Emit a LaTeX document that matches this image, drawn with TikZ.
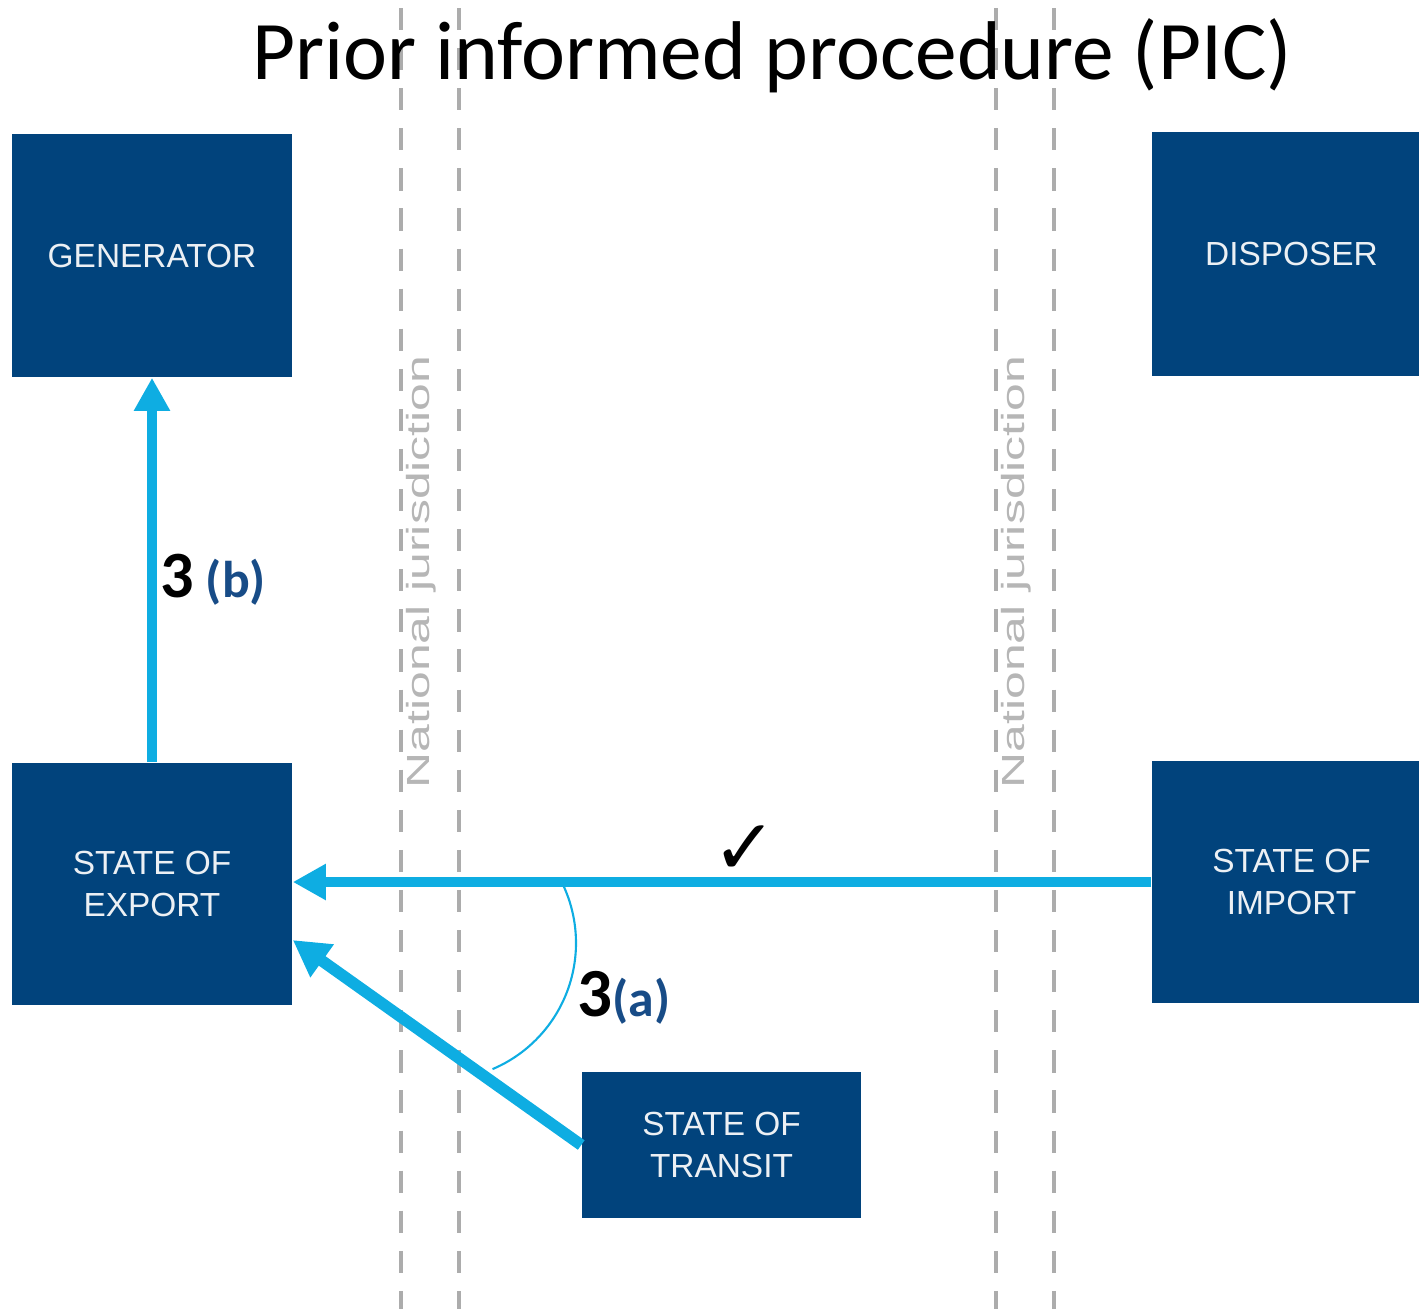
\documentclass[tikz,border=0pt]{standalone}
\usepackage{fontspec}
\usepackage{graphicx}
\setmainfont{Liberation Sans}
\newfontfamily\titlefont{Carlito}
\newfontfamily\tickfont{DejaVu Sans}
\usetikzlibrary{arrows.meta}
\definecolor{boxblue}{RGB}{1,67,124}
\definecolor{boxtext}{RGB}{236,240,244}
\definecolor{arrowblue}{RGB}{14,173,226}
\definecolor{stepblue}{RGB}{24,76,135}
\definecolor{jurgray}{RGB}{172,172,172}
\definecolor{jurtext}{RGB}{182,182,182}
\begin{document}
\begin{tikzpicture}[x=0.01cm,y=-0.01cm,line join=round,>={Triangle[length=0.33cm,width=0.34cm]},
	actor/.style={fill=boxblue,text=boxtext,inner sep=0pt,align=center,font=\fontsize{9.5}{11.7}\selectfont},
	flow/.style={->,draw=arrowblue,line width=2.6pt},
	jurline/.style={draw=jurgray,line width=1.4pt,dash pattern=on 6.3pt off 5.1pt},
	jurlabel/.style={text=jurtext,rotate=90,anchor=base,inner sep=0pt,font=\fontsize{9.1}{10}\selectfont},
	stepno/.style={inner sep=0pt,anchor=base west,font=\titlefont\bfseries}]
		\useasboundingbox (0,0) rectangle (1419,1309);
		% borders of national jurisdiction
		\foreach \x in {401,459,996,1054}
			\draw[jurline] (\x,8) -- (\x,1309);
		\node[jurlabel] (jurleft) at (429,572) {\scalebox{1.56}[1]{National jurisdiction}};
		\node[jurlabel] (jurright) at (1024,572) {\scalebox{1.56}[1]{National jurisdiction}};
		\node[anchor=base,font=\titlefont\fontsize{23.7}{28}\selectfont] (title) at (772,79) {Prior informed procedure (PIC)};
		% states and parties
		\node[actor,minimum width=2.8cm,minimum height=2.43cm] (generator) at (152,255.5) {GENERATOR};
		\node[actor,minimum width=2.79cm,minimum height=2.44cm] (disposer) at (1291.5,254) {DISPOSER};
		\node[actor,minimum width=2.8cm,minimum height=2.42cm] (export) at (152,884) {STATE OF\\EXPORT};
		\node[actor,minimum width=2.79cm,minimum height=2.42cm] (import) at (1291.5,882) {STATE OF\\IMPORT};
		\node[actor,minimum width=2.79cm,minimum height=1.46cm] (transit) at (721.5,1145) {STATE OF\\TRANSIT};
		% replies
		\draw[flow] (export.north) -- (generator.south);
		\draw[flow] (import.west) -- (import.west -| export.east);
		\draw[flow,line width=3.3pt,>={Triangle[length=0.36cm,width=0.38cm]}] (transit.west) -- ([yshift=-0.56cm]export.east);
		\draw[draw=arrowblue,line width=0.6pt] (439,943) ++(-25:137) arc[start angle=-25,end angle=67,radius=137];
		\node[inner sep=0pt,font=\tickfont\fontsize{22}{24}\selectfont] (tick) at (745,850) {✓};
		\node[stepno] (stepb) at (160,597) {\fontsize{18.8}{20}\selectfont 3\textcolor{stepblue}{\fontsize{14.7}{16}\selectfont\ (b)}};
		\node[stepno] (stepa) at (577,1016) {\fontsize{19.6}{20}\selectfont 3\textcolor{stepblue}{\fontsize{14.7}{16}\selectfont(a)}};
\end{tikzpicture}
\end{document}
